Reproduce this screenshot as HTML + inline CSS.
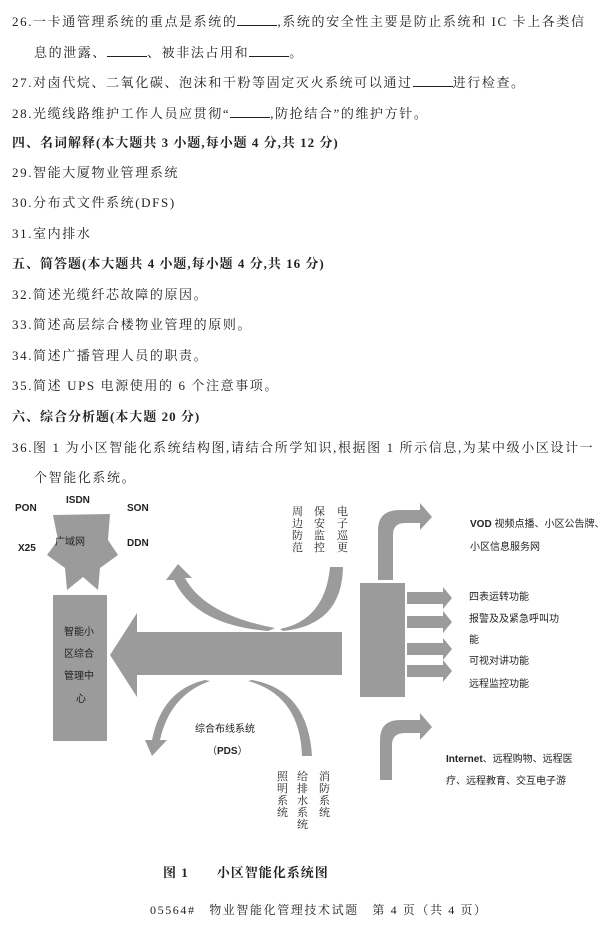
<!DOCTYPE html>
<html><head><meta charset="utf-8"><style>
body{margin:0;background:#fff;}
#p{position:relative;width:610px;height:929px;overflow:hidden;font-family:"Liberation Serif","Noto Serif CJK SC","Noto Sans CJK SC",serif;color:#222;}
.l{position:absolute;left:12px;font-size:13px;letter-spacing:1.6px;white-space:nowrap;line-height:18px;}
.b{font-weight:bold;font-family:"Liberation Serif","Noto Serif CJK SC",serif;letter-spacing:1px;}
.u{display:inline-block;width:40px;border-bottom:1px solid #222;height:13px;vertical-align:baseline;}
.t{position:absolute;font-family:"Liberation Sans","Noto Sans CJK SC",sans-serif;font-size:10px;white-space:nowrap;color:#222;line-height:12px;}
.v{position:absolute;font-family:"Noto Serif CJK SC","Noto Sans CJK SC",serif;font-size:11px;width:12px;line-height:12px;color:#222;}
.s{font-weight:bold;}
</style></head><body><div id="p">
<div class="l" style="top:12px">26.一卡通管理系统的重点是系统的<span class="u"></span>,系统的安全性主要是防止系统和 IC 卡上各类信</div>
<div class="l" style="top:43px;left:34px">息的泄露、<span class="u"></span>、被非法占用和<span class="u"></span>。</div>
<div class="l" style="top:73px">27.对卤代烷、二氧化碳、泡沫和干粉等固定灭火系统可以通过<span class="u"></span>进行检查。</div>
<div class="l" style="top:104px">28.光缆线路维护工作人员应贯彻“<span class="u"></span>,防抢结合”的维护方针。</div>
<div class="l b" style="top:134px">四、名词解释(本大题共 3 小题,每小题 4 分,共 12 分)</div>
<div class="l" style="top:164px">29.智能大厦物业管理系统</div>
<div class="l" style="top:194px">30.分布式文件系统(DFS)</div>
<div class="l" style="top:225px">31.室内排水</div>
<div class="l b" style="top:255px">五、简答题(本大题共 4 小题,每小题 4 分,共 16 分)</div>
<div class="l" style="top:286px">32.简述光缆纤芯故障的原因。</div>
<div class="l" style="top:316px">33.简述高层综合楼物业管理的原则。</div>
<div class="l" style="top:347px">34.简述广播管理人员的职责。</div>
<div class="l" style="top:377px">35.简述 UPS 电源使用的 6 个注意事项。</div>
<div class="l b" style="top:408px">六、综合分析题(本大题 20 分)</div>
<div class="l" style="top:439px">36.图 1 为小区智能化系统结构图,请结合所学知识,根据图 1 所示信息,为某中级小区设计一</div>
<div class="l" style="top:469px;left:34px">个智能化系统。</div>

<svg width="610" height="929" style="position:absolute;left:0;top:0">
<g fill="#9b9b9b">
<polygon points="53,515 110,514 108,540 118,555 100,568 98,590 83,577 67,590 65,568 47,555 58,540"/>
<rect x="53" y="595" width="54" height="146"/>
<polygon points="110,655 137,613 137,632 342,632 342,675 137,675 137,697"/>
<path d="M275,628 Q205,615 185,578 L192,578 L178,564 L166,580 L174,580 Q195,625 268,631 Z"/>
<path d="M280,629 Q325,620 330,567 L343,567 Q342,625 283,631 Z"/>
<path d="M210,681 Q170,695 160,740 L167,740 L152,756 L145,740 L152,740 Q162,690 205,680 Z"/>
<path d="M248,681 Q300,695 302,756 L312,756 Q308,690 252,680 Z"/>
<rect x="360" y="583" width="45" height="114"/>
<path d="M378,580 L378,530 Q378,510 400,510 L420,510 L420,503 L432,517 L420,530 L420,523 L405,523 Q393,523 393,535 L393,580 Z"/>
<path d="M380,780 L380,740 Q380,720 400,720 L420,720 L420,713 L432,727 L420,740 L420,733 L405,733 Q392,733 392,745 L392,780 Z"/>
<polygon points="407,592 443,592 443,587 452,598 443,609 443,604 407,604"/>
<polygon points="407,616 443,616 443,611 452,622 443,633 443,628 407,628"/>
<polygon points="407,643 443,643 443,638 452,649 443,660 443,655 407,655"/>
<polygon points="407,665 443,665 443,660 452,671 443,682 443,677 407,677"/>
</g>
</svg>
<div class="t s" style="left:15px;top:503px">PON</div>
<div class="t s" style="left:66px;top:495px">ISDN</div>
<div class="t s" style="left:127px;top:503px">SON</div>
<div class="t s" style="left:18px;top:543px">X25</div>
<div class="t s" style="left:127px;top:538px">DDN</div>
<div class="t" style="left:55px;top:537px">广域网</div>
<div class="t" style="left:64px;top:627px">智能小</div>
<div class="t" style="left:64px;top:649px">区综合</div>
<div class="t" style="left:64px;top:671px">管理中</div>
<div class="t" style="left:76px;top:694px">心</div>
<div class="v" style="left:292px;top:505px">周边防范</div>
<div class="v" style="left:314px;top:505px">保安监控</div>
<div class="v" style="left:337px;top:505px">电子巡更</div>
<div class="v" style="left:277px;top:770px">照明系统</div>
<div class="v" style="left:297px;top:770px">给排水系统</div>
<div class="v" style="left:319px;top:770px">消防系统</div>
<div class="t" style="left:195px;top:724px">综合布线系统</div>
<div class="t" style="left:207px;top:746px">（<b>PDS</b>）</div>
<div class="t" style="left:470px;top:519px"><b>VOD</b> 视频点播、小区公告牌、</div>
<div class="t" style="left:470px;top:542px">小区信息服务网</div>
<div class="t" style="left:469px;top:592px">四表运转功能</div>
<div class="t" style="left:469px;top:614px">报警及及紧急呼叫功</div>
<div class="t" style="left:469px;top:635px">能</div>
<div class="t" style="left:469px;top:656px">可视对讲功能</div>
<div class="t" style="left:469px;top:679px">远程监控功能</div>
<div class="t" style="left:446px;top:754px"><b>Internet</b>、远程购物、远程医</div>
<div class="t" style="left:446px;top:776px">疗、远程教育、交互电子游</div>
<div class="l b" style="left:163px;top:864px;font-size:13px">图 1　　小区智能化系统图</div>
<div class="l" style="left:150px;top:901px;font-size:12px">05564#　物业智能化管理技术试题　第 4 页（共 4 页）</div>
</div></body></html>
